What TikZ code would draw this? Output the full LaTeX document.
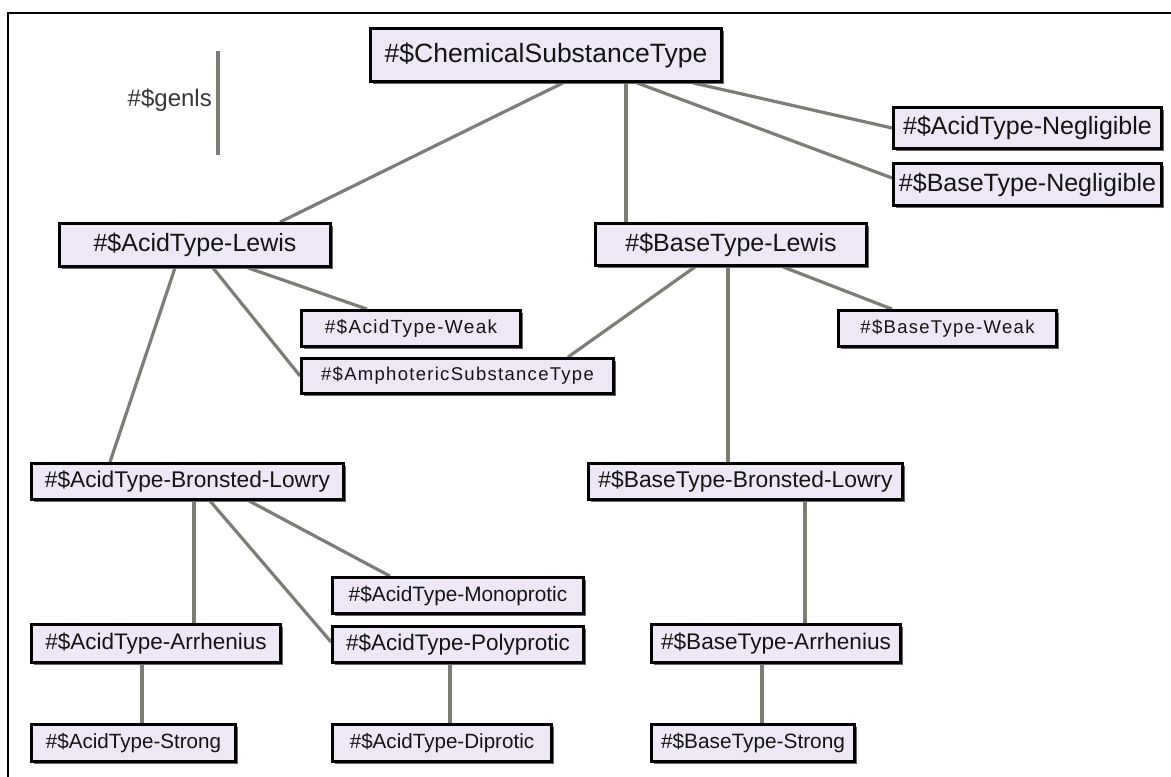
\documentclass[tikz,border=0pt]{standalone}
\usepackage{fontspec}
\setmainfont{Liberation Sans}
\newfontfamily\lsfont[LetterSpace=7]{Liberation Sans}
\usetikzlibrary{shadows,backgrounds}
\definecolor{boxfill}{RGB}{237,231,246}
\definecolor{conngray}{RGB}{125,125,120}
\definecolor{txt}{RGB}{20,20,20}
\newcommand{\fs}[1]{\fontsize{#1}{#1}\selectfont}
\newcommand{\lfs}[1]{\lsfont\fontsize{#1}{#1}\selectfont}
\tikzset{
  tbox/.style={draw=black, line width=2.8pt, fill=boxfill, text=txt, inner sep=0pt,
    drop shadow={shadow xshift=2pt, shadow yshift=-2pt, fill=black!60, opacity=1}},
  conn/.style={draw=conngray, line width=3.2pt},
  frame/.style={draw=black, line width=2.2pt},
}
\begin{document}
\begin{tikzpicture}[x=1pt,y=-1pt]
\useasboundingbox (0,0) rectangle (1171,777);

% legend
\node[anchor=east, text=txt!85, font=\fs{24}, inner sep=0pt] (genls) at (212,100) {\#\$genls};
\coordinate (lg1) at (218,51);
\coordinate (lg2) at (218,155);

% nodes
\node[tbox, minimum width=351pt, minimum height=53pt, font=\fs{26.5}] (chem) at (546,55) {\#\$ChemicalSubstanceType};
\node[tbox, minimum width=268pt, minimum height=41pt, font=\fs{25}] (acidneg) at (1027.5,128) {\#\$AcidType-Negligible};
\node[tbox, minimum width=268pt, minimum height=42pt, font=\fs{25}] (baseneg) at (1027.5,184.5) {\#\$BaseType-Negligible};
\node[tbox, minimum width=271pt, minimum height=43pt, font=\fs{25}] (acidlewis) at (195,245) {\#\$AcidType-Lewis};
\node[tbox, minimum width=271pt, minimum height=42pt, font=\fs{25}] (baselewis) at (731,244.5) {\#\$BaseType-Lewis};
\node[tbox, minimum width=219pt, minimum height=36pt, font=\lfs{19}] (acidweak) at (411,328.5) {\#\$AcidType-Weak};
\node[tbox, minimum width=312pt, minimum height=35pt, font=\lfs{18.5}] (ampho) at (457.5,376) {\#\$AmphotericSubstanceType};
\node[tbox, minimum width=218pt, minimum height=36pt, font=\lfs{18.5}] (baseweak) at (947.5,328.5) {\#\$BaseType-Weak};
\node[tbox, minimum width=312pt, minimum height=36pt, font=\fs{22.7}] (acidbl) at (187.5,481.5) {\#\$AcidType-Bronsted-Lowry};
\node[tbox, minimum width=314pt, minimum height=36pt, font=\fs{22.8}] (basebl) at (745.5,481.5) {\#\$BaseType-Bronsted-Lowry};
\node[tbox, minimum width=251pt, minimum height=36pt, font=\fs{20.8}] (mono) at (458,595.5) {\#\$AcidType-Monoprotic};
\node[tbox, minimum width=249pt, minimum height=38pt, font=\fs{22.5}] (acidarr) at (156,643.5) {\#\$AcidType-Arrhenius};
\node[tbox, minimum width=251pt, minimum height=36pt, font=\fs{22.5}] (poly) at (458,644.5) {\#\$AcidType-Polyprotic};
\node[tbox, minimum width=204pt, minimum height=37pt, font=\fs{20.6}] (acidstrong) at (133.5,743) {\#\$AcidType-Strong};
\node[tbox, minimum width=219pt, minimum height=37pt, font=\fs{20.6}] (diprotic) at (442,743) {\#\$AcidType-Diprotic};
\node[tbox, minimum width=249pt, minimum height=38pt, font=\fs{22.6}] (basearr) at (776,643.5) {\#\$BaseType-Arrhenius};
\node[tbox, minimum width=203pt, minimum height=37pt, font=\fs{20.8}] (basestrong) at (753,743) {\#\$BaseType-Strong};

% connectors
\begin{scope}[on background layer]
\fill[white] (0,0) rectangle (1171,777);
\draw[frame] (8,780) -- (8,13) -- (1175,13);
\draw[conn] (lg1) -- (lg2);
\draw[conn] ([xshift=17pt]chem.south) -- ([xshift=85pt]acidlewis.north);
\draw[conn] ([xshift=80pt]chem.south) -- ([xshift=-105pt]baselewis.north);
\draw[conn] ([xshift=91pt]chem.south) -- ([yshift=6.5pt]baseneg.west);
\draw[conn] ([xshift=147pt]chem.south) -- (acidneg.west);
\draw[conn] ([xshift=-20pt]acidlewis.south) -- ([xshift=-77.5pt]acidbl.north);
\draw[conn] ([xshift=18pt]acidlewis.south) -- (ampho.west);
\draw[conn] ([xshift=53pt]acidlewis.south) -- ([xshift=-44pt]acidweak.north);
\draw[conn] ([xshift=-36pt]baselewis.south) -- ([xshift=110.5pt]ampho.north);
\draw[conn] ([xshift=-3pt]baselewis.south) -- ([xshift=-17.5pt]basebl.north);
\draw[conn] ([xshift=52pt]baselewis.south) -- ([xshift=-55.5pt]baseweak.north);
\draw[conn] ([xshift=6.5pt]acidbl.south) -- ([xshift=38pt]acidarr.north);
\draw[conn] ([xshift=22.5pt]acidbl.south) -- ([yshift=2.5pt]poly.west);
\draw[conn] ([xshift=61.5pt]acidbl.south) -- ([xshift=-68pt]mono.north);
\draw[conn] ([xshift=-14pt]acidarr.south) -- ([xshift=8.5pt]acidstrong.north);
\draw[conn] ([xshift=-8pt]poly.south) -- ([xshift=8pt]diprotic.north);
\draw[conn] ([xshift=59.5pt]basebl.south) -- ([xshift=29pt]basearr.north);
\draw[conn] ([xshift=-14pt]basearr.south) -- ([xshift=9pt]basestrong.north);
\end{scope}
\end{tikzpicture}
\end{document}
